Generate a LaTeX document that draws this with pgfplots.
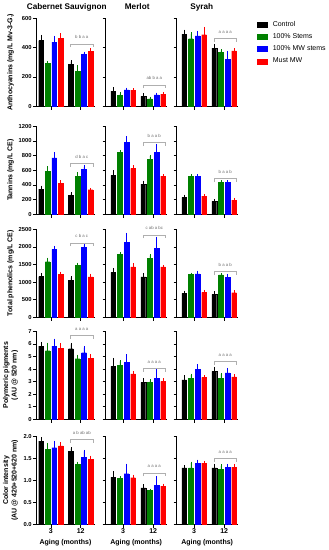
\documentclass[border=0pt]{standalone}
\usepackage{pgfplots}
\pgfplotsset{compat=1.18}
\usepackage{pgfplotstable}
\usepackage{fontspec}
\setmainfont{Liberation Sans}
\definecolor{cG}{RGB}{0,128,0}
\definecolor{cB}{RGB}{0,0,255}
\definecolor{cR}{RGB}{255,0,0}
\definecolor{brkc}{RGB}{175,175,175}
\definecolor{lettc}{RGB}{110,110,110}

% ---------------- data: g = group position (3 months -> 2, 12 months -> 6)
\pgfplotstableread{
g C Ce S Se B Be M Me
2 448 30 291 9 437 34 463 25
6 287 18 240 29 355 8 376 9
}\aCS
\pgfplotstableread{
g C Ce S Se B Be M Me
2 103 18 74 11 112 5 110 4
6 67 13 51 6 78 6 83 4
}\aM
\pgfplotstableread{
g C Ce S Se B Be M Me
2 492 22 461 33 481 23 488 44
6 396 18 369 11 322 47 378 9
}\aS
\pgfplotstableread{
g C Ce S Se B Be M Me
2 344 27 589 50 770 59 426 18
6 258 23 521 36 616 32 335 8
}\tCS
\pgfplotstableread{
g C Ce S Se B Be M Me
2 530 50 842 9 978 68 625 23
6 412 27 752 41 842 100 521 9
}\tM
\pgfplotstableread{
g C Ce S Se B Be M Me
2 231 18 521 5 521 5 249 9
6 177 9 435 9 435 9 195 9
}\tS
\pgfplotstableread{
g C Ce S Se B Be M Me
2 1155 66 1581 76 1932 57 1222 38
6 1051 76 1477 38 1989 57 1146 57
}\pCS
\pgfplotstableread{
g C Ce S Se B Be M Me
2 1278 85 1780 28 2121 237 1430 66
6 1146 76 1676 76 1960 284 1430 19
}\pM
\pgfplotstableread{
g C Ce S Se B Be M Me
2 682 38 1212 19 1231 57 710 28
6 653 47 1203 10 1136 57 700 28
}\pS
\pgfplotstableread{
g C Ce S Se B Be M Me
2 5.83 0.21 5.46 0.53 5.83 0.48 5.67 0.29
6 5.62 0.35 4.82 0.21 5.30 0.40 4.87 0.21
}\gCS
\pgfplotstableread{
g C Ce S Se B Be M Me
2 4.21 0.56 4.31 0.29 4.52 0.53 3.62 0.11
6 2.93 0.21 2.95 0.11 3.27 0.59 3.01 0.13
}\gM
\pgfplotstableread{
g C Ce S Se B Be M Me
2 3.14 0.24 3.25 0.27 3.99 0.29 3.33 0.08
6 3.81 0.24 3.27 0.32 3.70 0.27 3.38 0.11
}\gS
\pgfplotstableread{
g C Ce S Se B Be M Me
2 1.89 0.06 1.71 0.11 1.74 0.13 1.78 0.05
6 1.66 0.06 1.36 0.03 1.52 0.14 1.47 0.06
}\cCS
\pgfplotstableread{
g C Ce S Se B Be M Me
2 1.07 0.10 1.05 0.01 1.15 0.20 1.06 0.04
6 0.83 0.05 0.77 0.01 0.89 0.17 0.87 0.02
}\cM
\pgfplotstableread{
g C Ce S Se B Be M Me
2 1.28 0.03 1.28 0.11 1.39 0.05 1.39 0.02
6 1.28 0.06 1.25 0.08 1.30 0.04 1.30 0.03
}\cS

\pgfplotsset{
  bb/.style={ybar, bar width=0.63, bar shift=0pt, fill=#1, draw=#1, line width=0.3pt,
    error bars/.cd, y dir=plus, y explicit,
    error bar style={draw=#1, line width=0.5pt},
    error mark options={draw=#1, mark size=1.4pt, line width=0.5pt}},
  prism/.style={
    scale only axis, height=88pt, anchor=south west,
    axis lines*=left,
    axis line style={line width=0.75pt, black},
    tick style={line width=0.7pt, black},
    major tick length=3.2pt, tick align=outside,
    xtick={2,6}, xticklabels={},
    ymin=0, clip=false,
    scaled y ticks=false,
    /pgf/number format/assume math mode=true,
    /pgf/number format/1000 sep={},
    yticklabel style={font=\bfseries\fontsize{5.8}{6.5}\selectfont, inner sep=1pt},
    xticklabel style={font=\bfseries\fontsize{7}{8}\selectfont, inner sep=1pt},
    ylabel style={font=\bfseries\fontsize{7}{8.5}\selectfont, align=center,
      at={(axis description cs:-0.43,0.5)}, anchor=center},
    xlabel style={font=\bfseries\fontsize{7}{8}\selectfont, inner sep=0pt, yshift=-4.5pt},
    title style={font=\bfseries\fontsize{8.2}{9}\selectfont, anchor=base,
      at={(axis description cs:0.5,1)}, yshift=2.8pt, inner sep=0pt},
  },
  c1/.style={width=59pt, xmin=0, xmax=7.92},
  c2/.style={width=61pt, xmin=-0.33, xmax=7.8, yticklabels={}},
  r1/.style={ymax=600, ytick={0,200,400,600}},
  r2/.style={ymax=1200, ytick={0,200,400,600,800,1000,1200}},
  r3/.style={ymax=2500, ytick={0,500,1000,1500,2000,2500}},
  r4/.style={ymax=7, ytick={0,1,2,3,4,5,6,7}},
  r5/.style={ymax=2, ytick={0,0.5,1,1.5,2},
    yticklabel style={/pgf/number format/.cd, fixed, fixed zerofill, precision=1},
    xticklabels={3,12}, xlabel={Aging (months)}},
}

\newcommand\fourbars[1]{%
  \addplot[bb=black] table[x expr=\thisrow{g}-1.32, y=C, y error=Ce]{#1};
  \addplot[bb=cG] table[x expr=\thisrow{g}-0.44, y=S, y error=Se]{#1};
  \addplot[bb=cB] table[x expr=\thisrow{g}+0.44, y=B, y error=Be]{#1};
  \addplot[bb=cR] table[x expr=\thisrow{g}+1.32, y=M, y error=Me]{#1};
}
\newcommand\brk[2]{%
  \draw[brkc, line width=0.5pt] ([yshift=-3.5pt]axis cs:4.65,#1) -- (axis cs:4.65,#1)
     -- (axis cs:7.65,#1) -- ([yshift=-3.5pt]axis cs:7.65,#1);
  \node[anchor=base, font=\fontsize{4.3}{5}\selectfont, text=lettc, inner sep=0pt]
     at ([yshift=5pt]axis cs:6.15,#1) {#2};
}

\begin{document}
\begin{tikzpicture}
\useasboundingbox (0,0) rectangle (329pt,-550pt);
% ---------- row 1
\begin{axis}[prism, c1, r1, at={(36pt,-106.3pt)},
  ylabel={Anthocyanins (mg/L Mv-3-G.)},
  title={Cabernet Sauvignon}, title style={xshift=1.2pt}]
\fourbars{\aCS}
\brk{425}{b b a a}
\end{axis}
\begin{axis}[prism, c2, r1, at={(105.7pt,-106.3pt)},
  title={Merlot}, title style={xshift=1pt}]
\fourbars{\aM}
\brk{146}{ab b a a}
\end{axis}
\begin{axis}[prism, c2, r1, at={(176.7pt,-106.3pt)},
  title={Syrah}, title style={xshift=-5.5pt},
  legend image code/.code={\fill[#1] (0pt,-2.5pt) rectangle (10pt,2.5pt);},
  legend style={at={(axis description cs:1,1)}, anchor=north west,
    xshift=19.6pt, yshift=-2.8pt, draw=none, fill=none, inner sep=0pt,
    row sep=5.7pt, font=\fontsize{7}{8}\selectfont,
    nodes={inner sep=0pt, text height=5pt, text depth=1.5pt}},
  legend cell align=left]
\fourbars{\aS}
\brk{461}{a a a a}
\addlegendimage{black}\addlegendentry{\hspace{5pt}Control}
\addlegendimage{cG}\addlegendentry{\hspace{5pt}100\% Stems}
\addlegendimage{cB}\addlegendentry{\hspace{5pt}100\% MW stems}
\addlegendimage{cR}\addlegendentry{\hspace{5pt}Must MW}
\end{axis}
% ---------- row 2
\begin{axis}[prism, c1, r2, at={(36pt,-214.3pt)}, ylabel={Tannins (mg/L CE)}]
\fourbars{\tCS}
\brk{693}{d b a c}
\end{axis}
\begin{axis}[prism, c2, r2, at={(105.7pt,-214.3pt)}]
\fourbars{\tM}
\brk{978}{b a a b}
\end{axis}
\begin{axis}[prism, c2, r2, at={(176.7pt,-214.3pt)}]
\fourbars{\tS}
\brk{489}{b a a b}
\end{axis}
% ---------- row 3
\begin{axis}[prism, c1, r3, at={(36pt,-317.3pt)}, ylabel={Total phenolics (mg/L CE)}]
\fourbars{\pCS}
\brk{2112}{c b a c}
\end{axis}
\begin{axis}[prism, c2, r3, at={(105.7pt,-317.3pt)}]
\fourbars{\pM}
\brk{2339}{c ab a bc}
\end{axis}
\begin{axis}[prism, c2, r3, at={(176.7pt,-317.3pt)}]
\fourbars{\pS}
\brk{1297}{b a a b}
\end{axis}
% ---------- row 4
\begin{axis}[prism, c1, r4, at={(36pt,-419.3pt)}, ylabel={Polymeric pigments\\(AU @ 520 nm)}]
\fourbars{\gCS}
\brk{6.65}{a a a a}
\end{axis}
\begin{axis}[prism, c2, r4, at={(105.7pt,-419.3pt)}]
\fourbars{\gM}
\brk{4.07}{a a a a}
\end{axis}
\begin{axis}[prism, c2, r4, at={(176.7pt,-419.3pt)}]
\fourbars{\gS}
\brk{4.58}{a a a a}
\end{axis}
% ---------- row 5
\begin{axis}[prism, c1, r5, at={(36pt,-524.3pt)}, ylabel={Color intensity\\(AU @ 420+520+620 nm)}]
\fourbars{\cCS}
\brk{1.93}{a b ab ab}
\end{axis}
\begin{axis}[prism, c2, r5, at={(105.7pt,-524.3pt)}]
\fourbars{\cM}
\brk{1.17}{a a a a}
\end{axis}
\begin{axis}[prism, c2, r5, at={(176.7pt,-524.3pt)}]
\fourbars{\cS}
\brk{1.49}{a a a a}
\end{axis}
\end{tikzpicture}
\end{document}
